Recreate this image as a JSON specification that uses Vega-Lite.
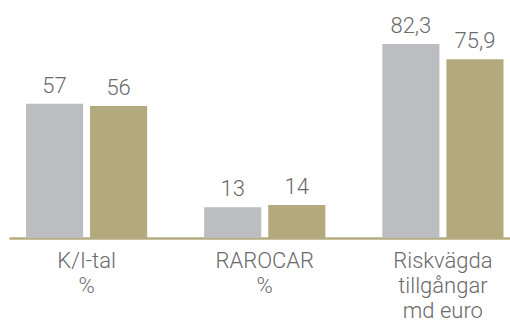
{
  "$schema": "https://vega.github.io/schema/vega-lite/v6.json",
  "width": 501,
  "height": 238,
  "autosize": {"type": "none"},
  "padding": {"left": 9, "top": 0, "right": 0, "bottom": 92},
  "background": "white",
  "data": {
    "values": [
      {"category": "K/I-tal|%", "series": "A", "value": 57},
      {"category": "K/I-tal|%", "series": "B", "value": 56},
      {"category": "RAROCAR|%", "series": "A", "value": 13},
      {"category": "RAROCAR|%", "series": "B", "value": 14},
      {"category": "Riskvägda|tillgångar|md euro", "series": "A", "value": 82.3},
      {"category": "Riskvägda|tillgångar|md euro", "series": "B", "value": 75.9}
    ]
  },
  "encoding": {
    "x": {
      "field": "category",
      "type": "nominal",
      "sort": null,
      "scale": {"paddingInner": 0.32, "paddingOuter": 0.066, "align": 0.723},
      "axis": {
        "title": null,
        "ticks": false,
        "grid": false,
        "domainColor": "#b5ad80",
        "domainWidth": 2.6,
        "labelAngle": 0,
        "labelFont": "Roboto",
        "labelFontWeight": 300,
        "labelFontSize": 22,
        "labelColor": "#6a6a6a",
        "labelLineHeight": 25,
        "labelPadding": 12,
        "labelExpr": "split(datum.label, '|')"
      }
    },
    "xOffset": {
      "field": "series",
      "type": "nominal",
      "scale": {"paddingInner": 0.109, "paddingOuter": 0}
    },
    "y": {
      "field": "value",
      "type": "quantitative",
      "scale": {"domain": [0, 101], "nice": false},
      "axis": null
    }
  },
  "layer": [
    {
      "mark": {"type": "bar"},
      "encoding": {
        "color": {
          "field": "series",
          "type": "nominal",
          "scale": {"domain": ["A", "B"], "range": ["#bcbdc1", "#b2aa7c"]},
          "legend": null
        }
      }
    },
    {
      "mark": {
        "type": "text",
        "dy": -11,
        "baseline": "alphabetic",
        "font": "Roboto",
        "fontWeight": 300,
        "fontSize": 22,
        "color": "#6a6a6a"
      },
      "encoding": {
        "text": {"field": "value", "type": "quantitative", "format": "~g"}
      }
    }
  ],
  "config": {
    "view": {"stroke": null},
    "locale": {
      "number": {
        "decimal": ",",
        "thousands": " ",
        "grouping": [3],
        "currency": ["", " kr"]
      }
    }
  }
}
